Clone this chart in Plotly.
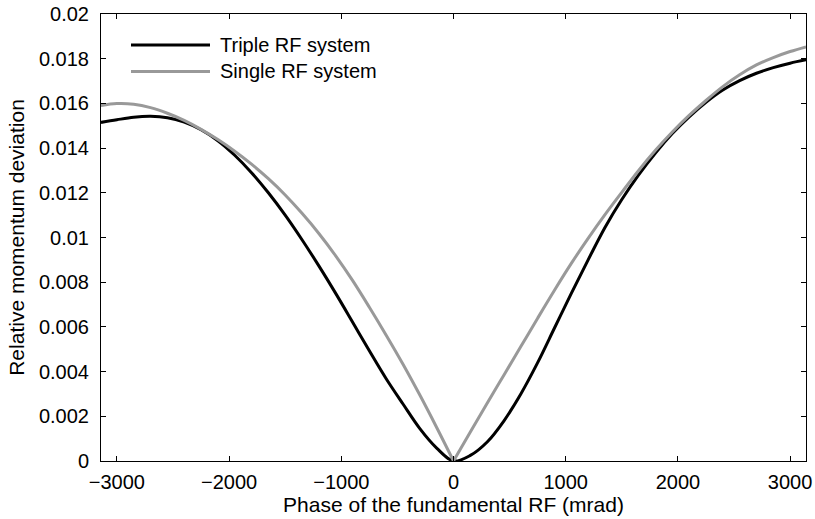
import plotly.graph_objects as go

# Phase (mrad) and relative momentum deviation
triple_phase = [-3142, -3000, -2850, -2700, -2550, -2400, -2250, -2100, -1950, -1800,
                -1650, -1500, -1350, -1200, -1050, -900, -750, -600, -450, -300,
                -150, 0, 150, 300, 450, 600, 750, 900, 1050, 1200, 1350, 1500,
                1650, 1800, 1950, 2100, 2250, 2400, 2550, 2700, 2850, 3000, 3142]
triple_delta = [0.01515, 0.01527, 0.01538, 0.01542, 0.01536, 0.01516, 0.01482, 0.01433,
                0.01368, 0.01290, 0.01200, 0.01100, 0.00990, 0.00873, 0.00750, 0.00622,
                0.00493, 0.00368, 0.00255, 0.00145, 0.00058, 0.0, 0.00025,
                0.00085, 0.00180, 0.00300, 0.00440, 0.00595, 0.00750, 0.00900, 0.01045,
                0.01170, 0.01280, 0.01378, 0.01465, 0.01540, 0.01605, 0.01660, 0.01702,
                0.01735, 0.01760, 0.01780, 0.01795]

single_phase = [-3142, -3000, -2850, -2700, -2550, -2400, -2250, -2100, -1950, -1800,
                -1650, -1500, -1350, -1200, -1050, -900, -750, -600, -450, -300, -150,
                0, 150, 300, 450, 600, 750, 900, 1050, 1200, 1350, 1500, 1650, 1800,
                1950, 2100, 2250, 2400, 2550, 2700, 2850, 3000, 3142]
single_delta = [0.01590, 0.01599, 0.01596, 0.01581, 0.01556, 0.01524, 0.01484, 0.01438,
                0.01386, 0.01328, 0.01263, 0.01190, 0.01108, 0.01018, 0.00918, 0.00808,
                0.00688, 0.00563, 0.00433, 0.00295, 0.00150, 0.0, 0.00130, 0.00258,
                0.00385, 0.00512, 0.00639, 0.00764, 0.00884, 0.00996, 0.01102, 0.01202,
                0.01300, 0.01390, 0.01472, 0.01546, 0.01613, 0.01675, 0.01728, 0.01772,
                0.01805, 0.01832, 0.01853]

x_ticks = [-3000, -2000, -1000, 0, 1000, 2000, 3000]
y_ticks = [0, 0.002, 0.004, 0.006, 0.008, 0.01, 0.012, 0.014, 0.016, 0.018, 0.02]
y_tick_labels = ["0", "0.002", "0.004", "0.006", "0.008", "0.01", "0.012",
                 "0.014", "0.016", "0.018", "0.02"]

series_names = ["Triple RF system", "Single RF system"]
BLACK = "#000000"
GREY = "#999999"
FONT = "Liberation Sans, Arial, Helvetica, sans-serif"

fig = go.Figure()
fig.add_trace(go.Scatter(x=triple_phase, y=triple_delta, mode="lines",
                         line=dict(color=BLACK, width=3, shape="spline", smoothing=1),
                         name=series_names[0], showlegend=False))

# single RF curve has a sharp V at zero: draw its two branches separately
left = [(x, y) for x, y in zip(single_phase, single_delta) if x <= 0]
right = [(x, y) for x, y in zip(single_phase, single_delta) if x >= 0]
for part in (left, right):
    fig.add_trace(go.Scatter(x=[p[0] for p in part], y=[p[1] for p in part], mode="lines",
                             line=dict(color=GREY, width=3, shape="spline", smoothing=1),
                             name=series_names[1], showlegend=False))

# manual legend (long line samples like the original)
legend_rows = [(series_names[0], BLACK), (series_names[1], GREY)]
x0_px, x1_px, txt_px = 131, 210, 218
L, R, T, B = 101, 9, 14, 58
W, H = 815, 519
pw, ph = W - L - R, H - T - B
for i, (name, col) in enumerate(legend_rows):
    ypx = 45 + 26.5 * i
    yp = 1 - (ypx - T) / ph
    fig.add_shape(type="line", xref="paper", yref="paper",
                  x0=(x0_px - L) / pw, x1=(x1_px - L) / pw, y0=yp, y1=yp,
                  line=dict(color=col, width=3))
    fig.add_annotation(xref="paper", yref="paper", x=(txt_px - L) / pw, y=yp,
                       text=name, showarrow=False, xanchor="left", yanchor="middle",
                       font=dict(size=20, color="black", family=FONT))

axis_common = dict(showline=True, linecolor="black", linewidth=1, mirror="ticks",
                   ticks="inside", ticklen=5, tickcolor="black", tickwidth=1,
                   showgrid=False, zeroline=False, automargin=False,
                   tickfont=dict(size=20, color="black", family=FONT))

fig.update_layout(
    width=W, height=H,
    margin=dict(l=L, r=R, t=T, b=B),
    paper_bgcolor="white", plot_bgcolor="white",
    font=dict(family=FONT, color="black", size=20),
    xaxis=dict(range=[-3141.6, 3141.6], tickvals=x_ticks, ticklabelstandoff=3,
               title=dict(text="Phase of the fundamental RF (mrad)", standoff=4,
                          font=dict(size=21, family=FONT)),
               **axis_common),
    yaxis=dict(range=[0, 0.02], tickvals=y_ticks, ticktext=y_tick_labels,
               ticklabelstandoff=7,
               title=dict(text="Relative momentum deviation", standoff=8,
                          font=dict(size=21, family=FONT)),
               **axis_common),
)

fig.write_html("out.html", config={"displayModeBar": False},
               post_script="document.body.style.margin='0';document.body.style.overflow='hidden';")
